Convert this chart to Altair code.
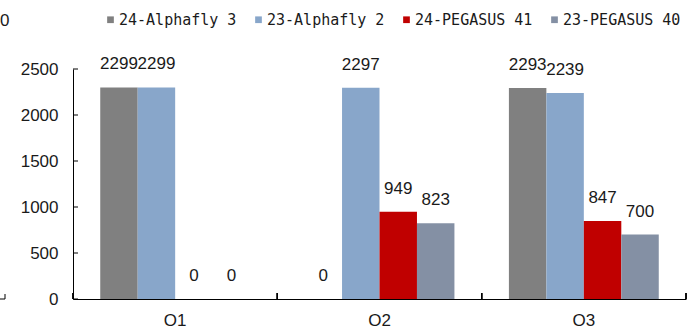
import altair as alt
import pandas as pd

quarters = ["Q1", "Q2", "Q3"]
series = ["24-Alphafly 3", "23-Alphafly 2", "24-PEGASUS 41", "23-PEGASUS 40"]
colors = ["#808080", "#88A6CA", "#C00000", "#8490A4"]
alphafly3 = [2299, 0, 2293]
alphafly2 = [2299, 2297, 2239]
pegasus41 = [0, 949, 847]
pegasus40 = [0, 823, 700]
y_ticks = [0, 500, 1000, 1500, 2000, 2500]

rows = []
for s, vals in zip(series, [alphafly3, alphafly2, pegasus41, pegasus40]):
    for q, v in zip(quarters, vals):
        rows.append({"quarter": q, "series": s, "value": v})
df = pd.DataFrame(rows)
df_yt = pd.DataFrame({"value": y_ticks})

FONT = "Liberation Sans"
TXT = "#1a1a1a"

x_axis = alt.Axis(
    title=None, labelAngle=0, tickSize=0, domainColor="black", domainWidth=1,
    labelFont=FONT, labelFontSize=17, labelColor=TXT, labelPadding=13,
    labelBaseline="top",
)
y_axis = alt.Axis(
    title=None, values=y_ticks, format="d", tickSize=0, grid=False,
    domainColor="black", domainWidth=1, labelFont=FONT, labelFontSize=17,
    labelColor=TXT, labelPadding=15,
)

x_enc = alt.X(
    "quarter:N",
    sort=quarters,
    scale=alt.Scale(paddingInner=0, paddingOuter=0),
    axis=x_axis,
)
xoff_enc = alt.XOffset(
    "series:N", sort=series, scale=alt.Scale(paddingInner=0, paddingOuter=0.727)
)
y_enc = alt.Y(
    "value:Q",
    scale=alt.Scale(domain=[0, 2500], nice=False),
    axis=y_axis,
)

bars = alt.Chart(df).mark_bar().encode(
    x=x_enc,
    xOffset=xoff_enc,
    y=y_enc,
    color=alt.Color(
        "series:N",
        sort=series,
        scale=alt.Scale(domain=series, range=colors),
        legend=alt.Legend(
            title=None, orient="none", legendX=30, legendY=-57,
            direction="horizontal", symbolType="square", symbolSize=45,
            symbolStrokeWidth=0, labelFont="DejaVu Sans Mono", labelFontSize=15,
            labelColor=TXT, labelOffset=1, columnPadding=14, padding=0,
            gridAlign="all", labelLimit=300,
        ),
    ),
)

labels = alt.Chart(df).mark_text(
    dy=-23, baseline="middle", font=FONT, fontSize=17, color=TXT
).encode(
    x=alt.X("quarter:N", sort=quarters, axis=x_axis),
    xOffset=xoff_enc,
    y=alt.Y("value:Q", axis=y_axis),
    text=alt.Text("value:Q"),
)

ytick_marks = alt.Chart(df_yt).mark_rule(color="black", strokeWidth=1).encode(
    y=alt.Y("value:Q", axis=y_axis),
    x=alt.value(0),
    x2=alt.value(5),
)

xtick_start = alt.Chart(df).mark_rule(color="black", strokeWidth=1).encode(
    x=alt.X("quarter:N", sort=quarters, bandPosition=0, axis=x_axis),
    y=alt.value(224),
    y2=alt.value(230),
)
xtick_end = alt.Chart(df).mark_rule(color="black", strokeWidth=1).encode(
    x=alt.X("quarter:N", sort=quarters, bandPosition=1, axis=x_axis),
    y=alt.value(224),
    y2=alt.value(230),
)

# remnants of a neighbouring chart visible at the left edge
stray_text = alt.Chart(df.head(1)).mark_text(
    text="0", font=FONT, fontSize=17, color=TXT, align="left", baseline="middle"
).encode(x=alt.value(-73), y=alt.value(-48))
stray_v = alt.Chart(df.head(1)).mark_rule(color="black").encode(
    x=alt.value(-68), y=alt.value(225), y2=alt.value(230)
)
stray_h = alt.Chart(df.head(1)).mark_rule(color="black").encode(
    x=alt.value(-73), x2=alt.value(-68), y=alt.value(230)
)

chart = (
    alt.layer(bars, labels, ytick_marks, xtick_start, xtick_end,
              stray_text, stray_v, stray_h)
    .properties(
        width=613,
        height=230,
        autosize=alt.AutoSizeParams(type="none"),
        padding={"left": 73, "top": 69, "right": 1, "bottom": 27},
        background="white",
    )
    .configure_view(stroke=None)
)

chart.save("out.html", embed_options={"renderer": "svg", "actions": False})
